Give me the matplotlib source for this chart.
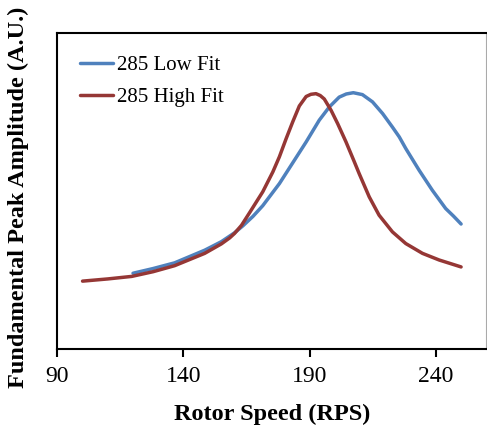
import matplotlib
matplotlib.use("Agg")
import matplotlib.pyplot as plt

# Rotor speed (RPS) and normalized amplitude
low_x = [120, 128, 136.5, 148.4, 155, 160.2, 163.5, 167.5, 171.4, 178, 183.3, 188.6,
         193.8, 197.8, 201.7, 204.5, 207.3, 210.9, 214.9, 218.9, 222.8, 225.5, 228.1,
         233.4, 238.6, 243.9, 247, 250]
low_y = [0.240, 0.255, 0.273, 0.313, 0.340, 0.368, 0.390, 0.420, 0.454, 0.524, 0.590, 0.656,
         0.725, 0.767, 0.798, 0.808, 0.812, 0.806, 0.783, 0.746, 0.703, 0.672, 0.635,
         0.566, 0.503, 0.445, 0.421, 0.396]

high_x = [100, 110, 119.5, 128, 136.5, 148.4, 155, 158.3, 160.2, 163, 166.2, 171.4, 175.4,
          178.0, 180.7, 183.3, 185.9, 188.6, 190.5, 192.5, 194.2, 195.8, 198.5, 201.1,
          204.4, 207.7, 209.6, 213.6, 217.5, 222.8, 228.1, 234.7, 241.3, 250]
high_y = [0.215, 0.222, 0.230, 0.245, 0.264, 0.303, 0.333, 0.352, 0.366, 0.392, 0.432, 0.498,
          0.561, 0.609, 0.667, 0.720, 0.770, 0.800, 0.807, 0.809, 0.803, 0.792, 0.756, 0.714,
          0.656, 0.593, 0.556, 0.482, 0.424, 0.371, 0.334, 0.303, 0.282, 0.260]

labels = ["285 Low Fit", "285 High Fit"]
colors = ["#4F81BD", "#953735"]
xticks = [90, 140, 190, 240]

plt.rcParams['font.family'] = ['Liberation Serif', 'DejaVu Serif']

fig = plt.figure(figsize=(4.87, 4.28), dpi=100)
ax = fig.add_axes([0.1177, 0.1846, 0.8809, 0.7374])

ax.plot(low_x, low_y, color=colors[0], lw=2.5, label=labels[0],
        solid_capstyle='round', solid_joinstyle='round')
ax.plot(high_x, high_y, color=colors[1], lw=2.5, label=labels[1],
        solid_capstyle='round', solid_joinstyle='round')

ax.set_xlim(90, 260)
ax.set_ylim(0, 1)
ax.set_xticks(xticks)
ax.set_xticklabels([str(t) for t in xticks])
ax.set_yticks([])
ax.tick_params(axis='x', direction='out', length=6, width=1.5, labelsize=17, pad=6)

for s in ['left', 'bottom', 'top']:
    ax.spines[s].set_linewidth(1.5)
    ax.spines[s].set_color('black')
ax.spines['right'].set_color('#aaaaaa')
ax.spines['right'].set_linewidth(0.8)

ax.set_xlabel("Rotor Speed (RPS)", fontsize=17.5, fontweight='bold', labelpad=12)
ax.set_ylabel("Fundamental Peak Amplitude (A.U.)", fontsize=17.5, fontweight='bold')
ax.yaxis.set_label_coords(-0.066, 0.482)

leg = ax.legend(loc='upper left', bbox_to_anchor=(0.008, 0.99), frameon=False, fontsize=15,
                handlelength=1.6, handletextpad=0.2, labelspacing=0.6)

fig.savefig("out.png", dpi=100)
